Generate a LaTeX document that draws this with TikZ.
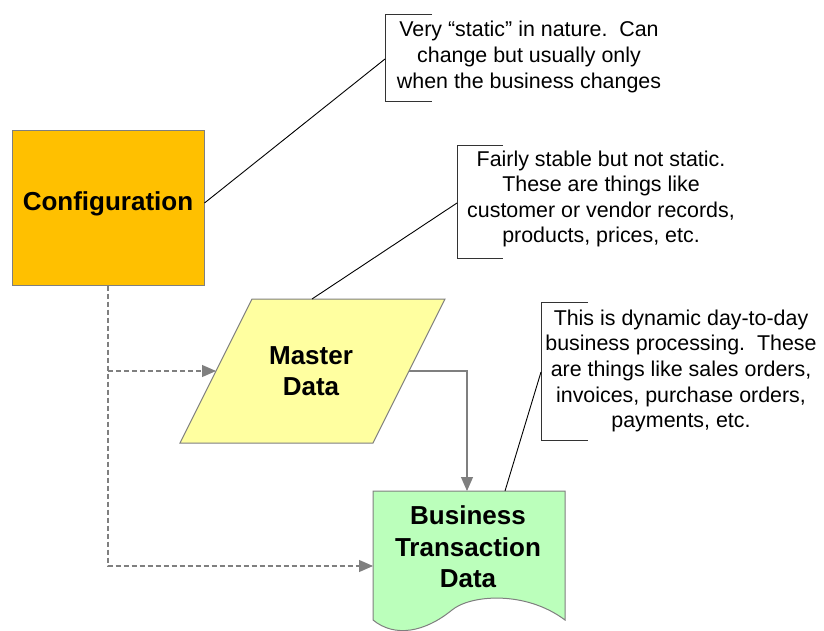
\documentclass[tikz,border=0pt]{standalone}
\usepackage{fontspec}
\setmainfont{Liberation Sans}
\usetikzlibrary{arrows.meta}
\definecolor{confcol}{HTML}{FFC000}
\definecolor{mastercol}{HTML}{FFFFA0}
\definecolor{btdcol}{HTML}{BBFFBB}
\definecolor{edgecol}{HTML}{7F7F7F}
\begin{document}
\begin{tikzpicture}[x=1pt,y=-1pt,
  shapeline/.style={draw=edgecol,line width=1pt},
  bigtext/.style={font=\fontsize{26}{31.5}\selectfont\bfseries,align=center,inner sep=0pt},
  notetext/.style={font=\fontsize{21.4}{25.6}\selectfont,align=center,inner sep=0pt},
  flow/.style={draw=edgecol,line width=1.1pt,-{Triangle[length=14pt,width=12pt]}},
  depends/.style={flow,dash pattern=on 5pt off 3pt},
  calloutline/.style={draw=black,line width=0.9pt},
  bracket/.style={draw=black!80,line width=1pt}]
\useasboundingbox (0,0) rectangle (824,631);

% Configuration box
\node[rectangle,shapeline,fill=confcol,minimum width=192pt,minimum height=154pt,inner sep=0pt] (conf) at (108,208) {};
\node[bigtext] (conftext) at (108,204) {Configuration};

% Master data parallelogram
\coordinate (mtl) at (252,299);
\coordinate (mtr) at (445,299);
\coordinate (mbr) at (373,443);
\coordinate (mbl) at (180,443);
\path[shapeline,fill=mastercol] (mtl) -- (mtr) -- (mbr) -- (mbl) -- cycle;
\node[bigtext] (master) at (311,371) {Master\\Data};
\coordinate (mleft) at (216,371);
\coordinate (mright) at (409,371);
\coordinate (mtop) at (312,299);

% Business transaction data document shape
\path[shapeline,fill=btdcol] (373,491) -- (565,491) -- (565,620)
  .. controls (525,590) and (470,595) .. (452,610)
  .. controls (425,632) and (395,638) .. (373,620) -- cycle;
\node[bigtext] (btd) at (468,547) {Business\\Transaction\\Data};
\coordinate (btop) at (467,491);
\coordinate (bleft) at (373,566);
\coordinate (bnote) at (505,491);

% Flow connectors
\draw[flow] (mright) -| (btop);
\draw[depends] (conf.south) |- (bleft);
\draw[depends] (conf.south |- mleft) -- (mleft);

% Notes
\node[notetext] (note1) at (529,57) {Very “static” in nature.\ \ Can\\change but usually only\\when the business changes};
\draw[bracket] (432,15) -- (385,15) -- (385,102) -- (432,102);
\coordinate (n1) at (385,59);
\draw[calloutline] (conf.east) ++(0,-5) -- (n1);

\node[notetext] (note2) at (601,199) {Fairly stable but not static.\\These are things like\\customer or vendor records,\\products, prices, etc.};
\draw[bracket] (503,146) -- (457,146) -- (457,258) -- (503,258);
\coordinate (n2) at (457,203);
\draw[calloutline] (mtop) -- (n2);

\node[notetext] (note3) at (681,371) {This is dynamic day-to-day\\business processing.\ \ These\\are things like sales orders,\\invoices, purchase orders,\\payments, etc.};
\draw[bracket] (588,302) -- (541,302) -- (541,440) -- (588,440);
\coordinate (n3) at (541,372);
\draw[calloutline] (bnote) -- (n3);
\end{tikzpicture}
\end{document}
